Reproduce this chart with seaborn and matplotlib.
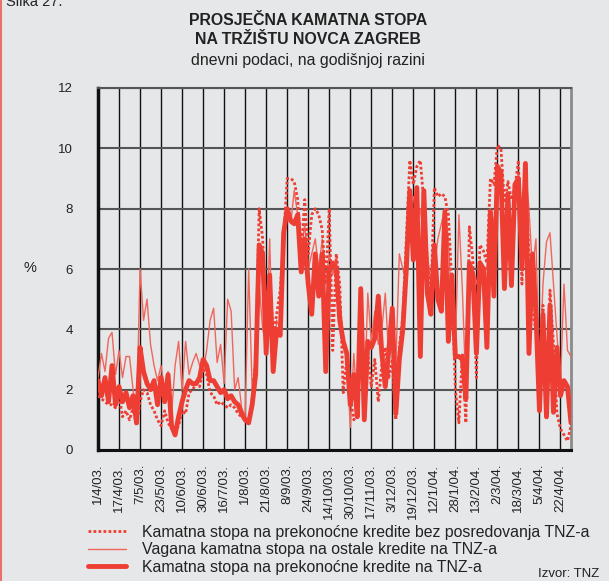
import matplotlib
matplotlib.use("Agg")
import numpy as np
import pandas as pd
import seaborn as sns
import matplotlib.pyplot as plt
from matplotlib.lines import Line2D

# tick labels (one every 6 points of the series)
tick_labels = ["1/4/03.", "17/4/03.", "7/5/03.", "23/5/03.", "10/6/03.", "30/6/03.",
               "16/7/03.", "1/8/03.", "21/8/03.", "8/9/03.", "24/9/03.", "14/10/03.",
               "30/10/03.", "17/11/03.", "3/12/03.", "19/12/03.", "12/1/04.", "28/1/04.",
               "13/2/04.", "2/3/04.", "18/3/04.", "5/4/04.", "22/4/04."]

# Kamatna stopa na prekonocne kredite na TNZ-a (thick)
overnight_tnz = [2.3, 1.8, 2.4, 1.6, 2.8, 1.5, 2.1, 1.6, 1.9, 1.4, 1.8, 0.9,
                 3.4, 2.6, 2.2, 2.0, 2.3, 1.5, 2.4, 1.6, 2.5, 0.8, 0.5, 1.1,
                 1.6, 2.0, 2.3, 2.2, 2.2, 2.4, 3.0, 2.8, 2.3, 2.3, 2.1, 1.9,
                 2.0, 1.7, 1.8, 1.6, 1.5, 1.2, 1.0, 0.9, 1.5, 2.5, 6.8, 6.5,
                 3.2, 5.8, 2.6, 4.0, 3.8, 7.2, 8.0, 7.6, 7.5, 7.8, 5.9, 7.0,
                 5.5, 4.5, 6.5, 5.1, 6.5, 2.6, 6.0, 6.2, 6.0, 4.3, 3.6, 3.2,
                 1.5, 2.5, 1.1, 5.35, 1.0, 3.6, 3.4, 3.7, 5.1, 3.2, 2.1, 3.3,
                 4.7, 1.2, 3.0, 4.0, 6.0, 8.6, 6.3, 8.7, 3.1, 8.6, 5.2, 4.5,
                 6.8, 5.0, 4.6, 7.9, 3.6, 5.8, 3.1, 3.1, 3.0, 1.7, 6.2, 5.8,
                 3.2, 6.2, 6.0, 3.4, 7.9, 5.1, 9.4, 9.2, 5.35, 8.5, 5.45, 8.8,
                 9.0, 6.0, 9.5, 3.2, 6.5, 4.5, 1.3, 4.5, 1.1, 4.8, 1.25, 3.4,
                 1.8, 2.3, 2.1, 0.9]

# Vagana kamatna stopa na ostale kredite na TNZ-a (thin)
other_tnz = [2.4, 3.2, 2.6, 3.7, 3.9, 2.5, 3.3, 2.4, 3.1, 3.1, 2.0, 1.0,
             6.0, 4.3, 5.0, 3.5, 2.8, 2.3, 2.8, 2.0, 2.6, 1.2, 2.8, 3.6,
             2.0, 3.6, 2.5, 2.9, 3.2, 2.8, 2.6, 3.3, 4.3, 4.7, 2.9, 3.5,
             2.2, 5.0, 4.6, 2.0, 2.4, 1.4, 1.1, 6.0, 2.0, 3.0, 5.5, 4.0,
             3.5, 7.0, 2.6, 4.3, 4.0, 7.3, 7.8, 7.5, 8.6, 7.8, 6.5, 7.5,
             6.0, 6.5, 7.0, 6.0, 7.0, 5.5, 6.5, 5.8, 6.3, 5.0, 3.8, 3.0,
             0.75, 3.2, 1.5, 4.8, 1.5, 5.2, 3.6, 4.6, 3.5, 4.0, 5.2, 3.0,
             4.0, 2.8, 6.5, 6.0, 5.6, 8.5, 8.4, 7.5, 8.0, 7.0, 6.5, 5.5,
             6.0, 7.0, 7.5, 8.0, 7.0, 4.5, 3.3, 7.8, 5.3, 2.0, 5.5, 6.0,
             5.5, 6.3, 6.1, 6.0, 8.0, 7.5, 9.0, 8.5, 7.2, 8.2, 7.0, 8.5,
             9.2, 8.0, 9.3, 8.0, 6.0, 7.0, 2.4, 5.5, 6.9, 7.2, 5.5, 3.8,
             2.3, 5.5, 3.3, 3.1]

# Kamatna stopa na prekonocne kredite bez posredovanja TNZ-a (dotted)
overnight_direct = [1.8, 1.7, 1.6, 1.5, 1.5, 1.4, 1.8, 1.1, 1.3, 1.0, 1.4, 0.8,
                    1.6, 2.0, 1.9, 1.5, 1.3, 1.0, 0.8, 1.3, 0.9, 0.7, 0.6, 0.8,
                    1.3, 1.2, 1.9, 2.0, 2.2, 2.1, 2.7, 2.5, 1.9, 1.8, 1.5, 1.6,
                    1.5, 1.4, 1.5, 1.4, 1.2, 1.1, 1.0, 0.9, 1.7, 3.0, 8.0, 7.0,
                    4.0, 5.8, 3.8, 4.5, 5.3, 7.0, 9.0, 9.0, 8.9, 8.3, 6.5, 8.3,
                    6.5, 7.8, 8.0, 7.8, 7.3, 5.5, 8.0, 3.3, 6.5, 5.5, 1.9, 3.0,
                    1.8, 1.0, 1.2, 4.5, 1.3, 3.2, 2.1, 3.0, 1.6, 2.8, 3.4, 2.4,
                    3.0, 1.0, 3.4, 4.4, 7.0, 9.6, 8.8, 9.4, 9.6, 8.2, 6.3, 5.0,
                    8.7, 8.4, 8.5, 8.4, 7.8, 5.5, 2.0, 0.9, 3.2, 0.9, 7.4, 6.3,
                    2.4, 6.8, 6.6, 6.2, 9.0, 8.8, 10.1, 10.0, 8.2, 8.9, 8.3, 8.7,
                    9.6, 5.5, 9.2, 6.5, 4.5, 4.0, 2.5, 4.8, 1.5, 5.3, 3.5, 1.2,
                    0.7, 0.5, 0.3, 0.8]

labels = ["Kamatna stopa na prekonoćne kredite bez posredovanja TNZ-a",
          "Vagana kamatna stopa na ostale kredite na TNZ-a",
          "Kamatna stopa na prekonoćne kredite na TNZ-a"]

df = pd.DataFrame({
    "dan": np.arange(len(overnight_tnz)),
    "thick": overnight_tnz,
    "thin": other_tnz,
    "dotted": overnight_direct,
})

bg = "#e6e7e9"
red = "#ee3e33"
ink = "#222222"
sns.set_style("white", {"axes.facecolor": bg, "figure.facecolor": bg})
plt.rcParams["font.family"] = ["Liberation Sans", "DejaVu Sans"]

fig = plt.figure(figsize=(6.09, 5.81), dpi=100)
ax = fig.add_axes([98 / 609, 1 - 450 / 581, 473 / 609, 362 / 581])

sns.lineplot(data=df, x="dan", y="thin", ax=ax, color="#f0665c", lw=1.0, zorder=3)
sns.lineplot(data=df, x="dan", y="dotted", ax=ax, color=red, lw=2.0,
             linestyle=(0, (1, 0.8)), zorder=4)
sns.lineplot(data=df, x="dan", y="thick", ax=ax, color=red, lw=3.5, zorder=5)

ax.set_xlim(0, 135)
ax.set_ylim(0, 12)
ax.set_xticks(range(0, 6 * len(tick_labels), 6))
ax.set_xticklabels(tick_labels, rotation=90)
ax.set_yticks(range(0, 13, 2))
ax.set_xlabel("")
ax.set_ylabel("")

ax.yaxis.grid(True, color="#555555", lw=1.5, zorder=1)
ax.xaxis.grid(True, color="#111111", lw=1.0, zorder=1)
ax.tick_params(axis="both", direction="out", length=6, width=1, color="black",
               labelsize=9.5, labelcolor=ink)
ax.tick_params(axis="x", pad=4)
ax.tick_params(axis="y", pad=12)

ax.spines["left"].set_linewidth(2.5)
ax.spines["left"].set_color("#111111")
ax.spines["bottom"].set_linewidth(2.2)
ax.spines["bottom"].set_color("#111111")
ax.spines["right"].set_linewidth(2)
ax.spines["right"].set_color("#8a8a8a")
ax.spines["top"].set_linewidth(1.5)
ax.spines["top"].set_color("#555555")
for s in ax.spines.values():
    s.set_visible(True)

fig.text(30 / 609, 1 - 268 / 581, "%", fontsize=10.5, ha="center", va="center", color=ink)

fig.text(308 / 609, 1 - 25 / 581, "PROSJEČNA KAMATNA STOPA", fontsize=11.4, fontweight="bold",
         ha="center", va="baseline", color=ink)
fig.text(308 / 609, 1 - 44 / 581, "NA TRŽIŠTU NOVCA ZAGREB", fontsize=11.4, fontweight="bold",
         ha="center", va="baseline", color=ink)
fig.text(308 / 609, 1 - 65 / 581, "dnevni podaci, na godišnjoj razini", fontsize=11.4,
         ha="center", va="baseline", color=ink)
fig.text(6 / 609, 1 - 6 / 581, "Slika 27.", fontsize=10.5, ha="left", va="baseline", color=ink)
fig.text(538 / 609, 1 - 577 / 581, "Izvor: TNZ", fontsize=9.5, ha="left", va="baseline", color=ink)

handles = [Line2D([], [], color=red, lw=2.0, linestyle=(0, (1, 0.8))),
           Line2D([], [], color="#f0665c", lw=1.0),
           Line2D([], [], color=red, lw=3.5)]
fig.legend(handles, labels, loc="upper left", bbox_to_anchor=(88 / 609, 1 - 525 / 581),
           frameon=False, fontsize=11.4, handlelength=2.4, handletextpad=1.0,
           labelspacing=0.15, borderpad=0, borderaxespad=0, labelcolor=ink)

fig.add_artist(Line2D([0.001, 0.001], [0, 1], color="#e8736c", lw=1.5, transform=fig.transFigure))

fig.savefig("out.png", dpi=100, facecolor=bg)
